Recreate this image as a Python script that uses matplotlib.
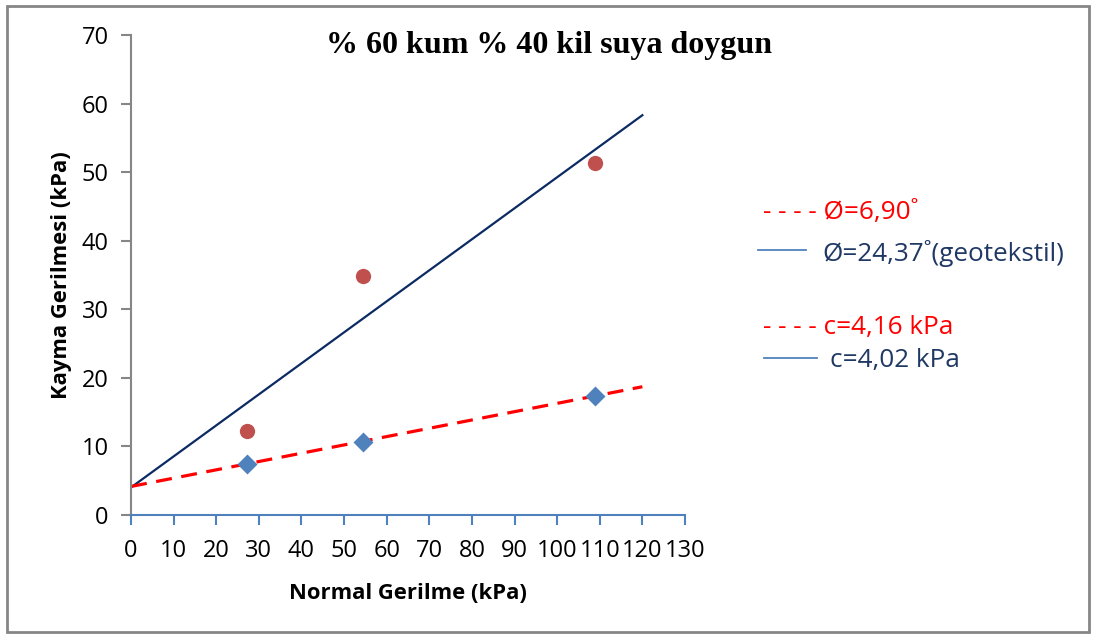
import matplotlib.pyplot as plt
from matplotlib.lines import Line2D
from matplotlib.patches import Rectangle

# measured points (kPa)
normal_stress = [27.2, 54.4, 108.8]
shear_plain = [7.5, 10.7, 17.4]        # diamonds
shear_geotextile = [12.3, 34.8, 51.4]  # circles

# trend lines (end points)
trend_x = [0, 120]
trend_plain = [4.16, 18.7]
trend_geotextile = [4.02, 58.3]

x_ticks = list(range(0, 131, 10))
y_ticks = list(range(0, 71, 10))

plt.rcParams['font.family'] = ['Open Sans', 'DejaVu Sans']

fig = plt.figure(figsize=(10.93, 6.36), dpi=100)
ax = fig.add_axes([0.1199, 0.1903, 0.5068, 0.7547])

ax.plot(trend_x, trend_geotextile, color='#0C2A63', lw=1.6, zorder=2)
ax.plot(trend_x, trend_plain, color='#FF0000', lw=2.3, dashes=(5, 3), zorder=2)
ax.plot(normal_stress, shear_plain, 'D', color='#4F81BD', ms=10.5, mec='none', zorder=3)
ax.plot(normal_stress, shear_geotextile, 'o', color='#C0504D', ms=11, mec='none', zorder=3)

ax.set_xlim(0, 130)
ax.set_ylim(0, 70)
ax.set_xticks(x_ticks)
ax.set_yticks(y_ticks)
ax.tick_params(axis='both', labelsize=17, length=7, direction='out')
ax.tick_params(axis='x', colors='#4F81BD', labelcolor='black', width=1.5, pad=10)
ax.tick_params(axis='y', colors='#868686', labelcolor='black', width=1.5, pad=9)
for s in ['top', 'right']:
    ax.spines[s].set_visible(False)
ax.spines['bottom'].set_color('#4F81BD')
ax.spines['bottom'].set_linewidth(1.5)
ax.spines['left'].set_color('#868686')
ax.spines['left'].set_linewidth(1.5)

ax.set_xlabel('Normal Gerilme (kPa)', fontsize=15.8, fontweight='bold', labelpad=15)
ax.set_ylabel('Kayma Gerilmesi (kPa)', fontsize=15.8, fontweight='bold', labelpad=7)

fig.text(549 / 1093, 1 - 45 / 636, '% 60 kum % 40 kil suya doygun', family='Liberation Serif',
         fontsize=23, fontweight='bold', ha='center', va='center')

# hand-made legend
navy = '#1F3864'
fig.text(763 / 1093, 1 - 213 / 636, '- - - - Ø=6,90˚', color='#FF0000', fontsize=18.8, va='center')
fig.add_artist(Line2D([758 / 1093, 806 / 1093], [1 - 250 / 636] * 2, color='#4F81BD', lw=1.3))
fig.text(822 / 1093, 1 - 253 / 636, 'Ø=24,37˚(geotekstil)', color=navy, fontsize=18.8, va='center')
fig.text(763 / 1093, 1 - 327 / 636, '- - - - c=4,16 kPa', color='#FF0000', fontsize=18.8, va='center')
fig.add_artist(Line2D([764 / 1093, 817 / 1093], [1 - 358 / 636] * 2, color='#4F81BD', lw=1.3))
fig.text(830 / 1093, 1 - 361 / 636, 'c=4,02 kPa', color=navy, fontsize=18.8, va='center')

# outer chart border
fig.add_artist(Rectangle((7 / 1093, 4 / 636), 1082 / 1093, 626 / 636, transform=fig.transFigure,
                         fill=False, edgecolor='#868686', lw=2))

fig.savefig('out.png', dpi=100)
